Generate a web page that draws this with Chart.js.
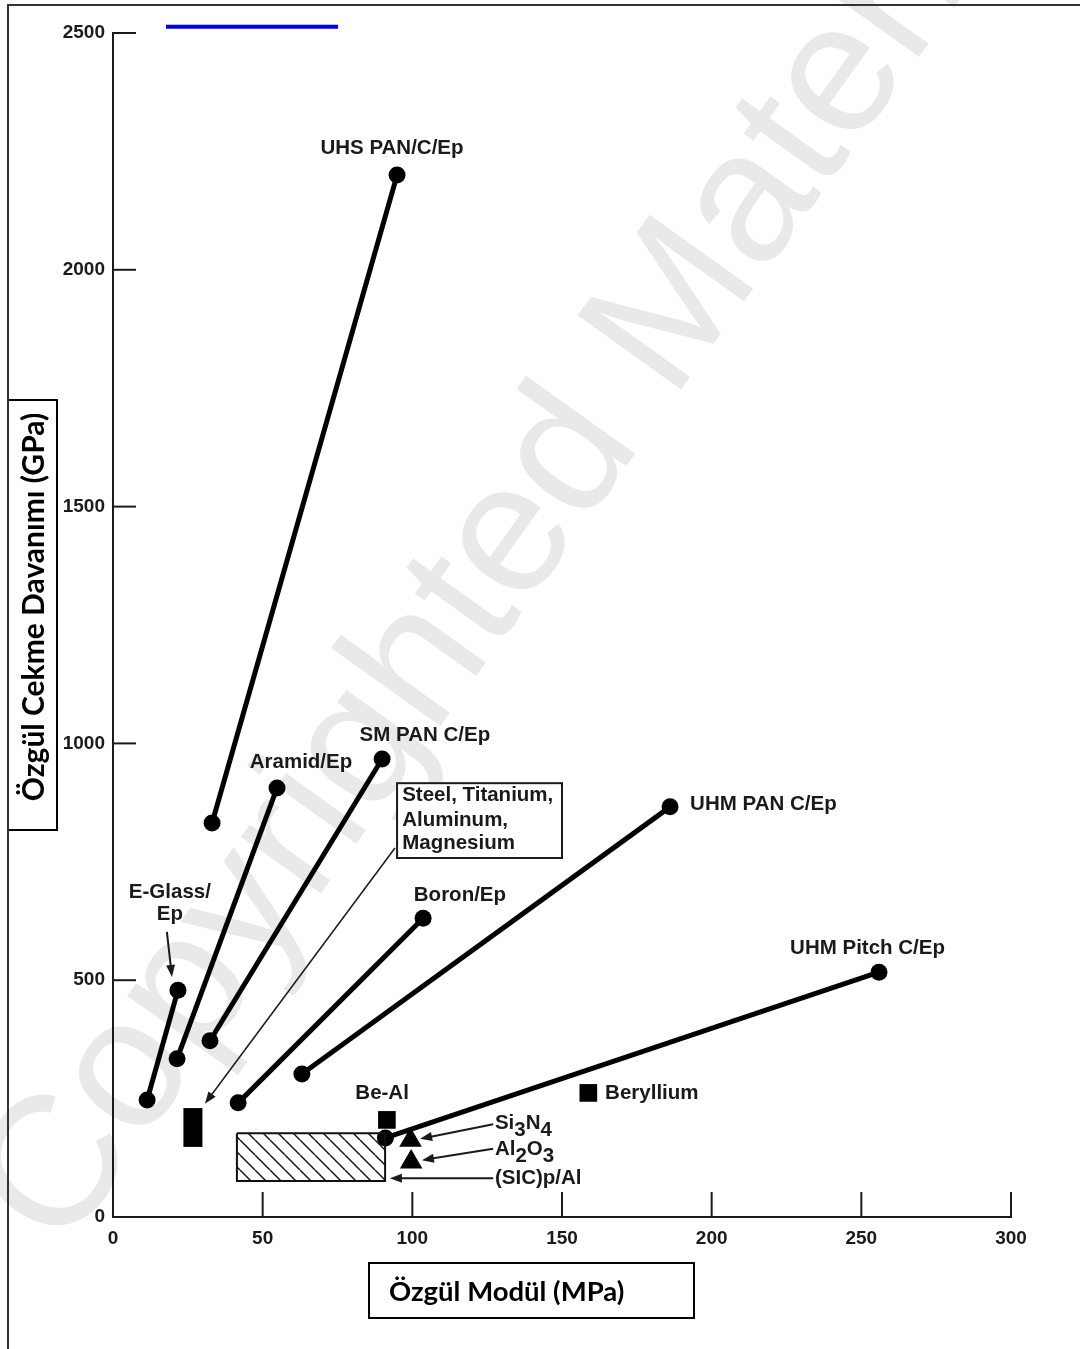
<!DOCTYPE html>
<html>
<head>
<meta charset="utf-8">
<script src="https://cdn.jsdelivr.net/npm/chart.js@4.4.1/dist/chart.umd.min.js"></script>
<style>
  html, body { margin: 0; padding: 0; background: #fff; }
  #wrap { position: relative; width: 1080px; height: 1349px; }
</style>
</head>
<body>
<div id="wrap"><canvas id="chart-canvas"></canvas></div>
<script>
// fibre composites, each drawn as a line from its low end to its high end
const materials   = ['UHS PAN/C/Ep', 'Aramid/Ep', 'SM PAN C/Ep', 'E-Glass/Ep', 'Boron/Ep', 'UHM PAN C/Ep', 'UHM Pitch C/Ep'];
const modulusLow  = [33.1, 21.4, 32.4, 11.4, 41.8, 63.1, 91.0];
const modulusHigh = [94.9, 54.8, 89.9, 21.7, 103.6, 186.1, 255.9];
const strengthLow = [832, 334, 372, 247, 241, 302, 167];
const strengthHigh = [2200, 906, 967, 479, 631, 866, 517];

// metals (Steel, Titanium, Aluminum, Magnesium) band
const metalModulus = 26.7;
const metalStrength = [148, 230];

// single materials
const squareNames = ['Be-Al', 'Beryllium'];
const squareModulus = [91.5, 158.8];
const squareStrength = [205, 262];
const triangleNames = ['Si3N4', 'Al2O3'];
const triangleModulus = [99.4, 99.6];
const triangleStrength = [162, 116];

// (SiC)p/Al range
const sicModulus = [41.4, 90.9];
const sicStrength = [76, 177];

// stray blue stroke at the top of the scan
const blueModulus = [17.7, 75.2];
const blueStrength = 2513;

const xTicks = [0, 50, 100, 150, 200, 250, 300];
const yTicks = [0, 500, 1000, 1500, 2000, 2500];

const LABEL_FONT = 'bold 20.5px "Liberation Sans", Arial, sans-serif';

// text labels, anchored in data units
const labels = [
  {t: 'UHS PAN/C/Ep', x: 93.2, y: 2257, a: 'center'},
  {t: 'Aramid/Ep', x: 62.8, y: 959, a: 'center'},
  {t: 'SM PAN C/Ep', x: 104.2, y: 1016, a: 'center'},
  {t: 'UHM PAN C/Ep', x: 192.8, y: 872, a: 'left'},
  {t: 'Boron/Ep', x: 115.9, y: 680, a: 'center'},
  {t: 'UHM Pitch C/Ep', x: 226.2, y: 568, a: 'left'},
  {t: 'E-Glass/', x: 19.0, y: 686, a: 'center'},
  {t: 'Ep', x: 19.0, y: 638, a: 'center'},
  {t: 'Be-Al', x: 89.9, y: 262, a: 'center'},
  {t: 'Beryllium', x: 164.4, y: 262, a: 'left'},
  {t: '(SIC)p/Al', x: 127.6, y: 82, a: 'left'}
];
const subLabels = [
  {parts: [['Si', 0], ['3', 1], ['N', 0], ['4', 1]], x: 127.6, y: 198},
  {parts: [['Al', 0], ['2', 1], ['O', 0], ['3', 1]], x: 127.6, y: 142}
];
const arrows = [
  {from: [18.0, 602], to: [19.7, 507], w: 2},
  {from: [94.2, 779], to: [30.7, 239], w: 1.5},
  {from: [127.0, 196], to: [102.6, 165], w: 2},
  {from: [127.0, 144], to: [103.2, 120], w: 2},
  {from: [127.0, 82], to: [92.5, 82], w: 2}
];
const metalBox = {x0: 94.9, x1: 150.0, y0: 916, y1: 758,
  lines: ['Steel, Titanium,', 'Aluminum,', 'Magnesium'], tx: 96.6, ty: [891, 838, 790]};

function hatch(){
  const c = document.createElement('canvas');
  c.width = 15; c.height = 15;
  const g = c.getContext('2d');
  g.strokeStyle = '#111';
  g.lineWidth = 1.4;
  for (let k = -1; k <= 1; k++){
    g.beginPath();
    g.moveTo(k * 15, 0);
    g.lineTo(k * 15 + 15, 15);
    g.stroke();
  }
  return g.createPattern(c, 'repeat');
}

function arrow(ctx, x1, y1, x2, y2, lw){
  const head = 12;
  const a = Math.atan2(y2 - y1, x2 - x1);
  ctx.lineWidth = lw;
  ctx.beginPath();
  ctx.moveTo(x1, y1);
  ctx.lineTo(x2 - Math.cos(a) * head * 0.7, y2 - Math.sin(a) * head * 0.7);
  ctx.stroke();
  ctx.beginPath();
  ctx.moveTo(x2, y2);
  ctx.lineTo(x2 - head * Math.cos(a) + 4.5 * Math.sin(a), y2 - head * Math.sin(a) - 4.5 * Math.cos(a));
  ctx.lineTo(x2 - head * Math.cos(a) - 4.5 * Math.sin(a), y2 - head * Math.sin(a) + 4.5 * Math.cos(a));
  ctx.closePath();
  ctx.fill();
}

const decorations = {
  id: 'decorations',
  beforeDraw(chart){
    const ctx = chart.ctx;
    ctx.save();
    // watermark of the scanned page
    ctx.fillStyle = '#e9e9e9';
    ctx.font = '185px "Liberation Sans", Arial, sans-serif';
    ctx.translate(62, 1255);
    ctx.rotate(-0.95);
    ctx.fillText('Copyrighted Material', 0, 0);
    ctx.restore();
  },
  afterDatasetsDraw(chart){
    const ctx = chart.ctx;
    const xs = chart.scales.x, ys = chart.scales.y;
    const X = v => xs.getPixelForValue(v), Y = v => ys.getPixelForValue(v);
    const area = chart.chartArea;
    ctx.save();
    ctx.strokeStyle = '#1a1a1a';
    ctx.fillStyle = '#1a1a1a';
    ctx.lineWidth = 2;
    // inward tick marks
    ys.ticks.forEach(t => {
      if (t.value === 0) return;
      const y = Y(t.value);
      ctx.beginPath(); ctx.moveTo(area.left, y); ctx.lineTo(area.left + 23, y); ctx.stroke();
    });
    xs.ticks.forEach(t => {
      if (t.value === 0) return;
      const x = X(t.value);
      ctx.beginPath(); ctx.moveTo(x, area.bottom); ctx.lineTo(x, area.bottom - 25); ctx.stroke();
    });

    arrows.forEach(a => arrow(ctx, X(a.from[0]), Y(a.from[1]), X(a.to[0]), Y(a.to[1]), a.w));

    ctx.font = LABEL_FONT;
    ctx.textBaseline = 'middle';
    labels.forEach(l => {
      ctx.textAlign = l.a;
      ctx.fillText(l.t, X(l.x), Y(l.y));
    });
    ctx.textAlign = 'left';
    subLabels.forEach(l => {
      let x = X(l.x);
      const y = Y(l.y);
      l.parts.forEach(p => {
        ctx.fillText(p[0], x, y + (p[1] ? 7 : 0));
        x += ctx.measureText(p[0]).width;
      });
    });

    // metals box
    const bx = X(metalBox.x0), by = Y(metalBox.y0);
    const bw = X(metalBox.x1) - bx, bh = Y(metalBox.y1) - by;
    ctx.fillStyle = '#fff';
    ctx.fillRect(bx, by, bw, bh);
    ctx.lineWidth = 2;
    ctx.strokeRect(bx, by, bw, bh);
    ctx.fillStyle = '#1a1a1a';
    metalBox.lines.forEach((s, i) => ctx.fillText(s, X(metalBox.tx), Y(metalBox.ty[i])));

    // axis title boxes
    ctx.strokeStyle = '#000';
    ctx.fillStyle = '#000';
    ctx.lineWidth = 2;
    ctx.strokeRect(369, 1263, 325, 55);
    ctx.font = 'bold 27.5px Lato, "Open Sans", sans-serif';
    ctx.fillText('Özgül Modül (MPa)', 389, 1292);
    ctx.fillStyle = '#fff';
    ctx.fillRect(8, 400, 49, 430);
    ctx.strokeRect(8, 400, 49, 430);
    ctx.fillStyle = '#000';
    ctx.translate(34, 607);
    ctx.rotate(-Math.PI / 2);
    ctx.textAlign = 'center';
    ctx.font = 'bold 30px Lato, "Open Sans", sans-serif';
    ctx.fillText('Özgül Cekme Davanımı (GPa)', 0, 0);
    ctx.restore();

    // page frame
    ctx.save();
    ctx.strokeStyle = '#333';
    ctx.lineWidth = 2;
    ctx.beginPath();
    ctx.moveTo(8, 1349); ctx.lineTo(8, 5); ctx.lineTo(1080, 5);
    ctx.stroke();
    ctx.restore();
  }
};

const datasets = [];
datasets.push({
  label: '(SiC)p/Al',
  data: [
    {x: sicModulus[0], y: sicStrength[1]}, {x: sicModulus[1], y: sicStrength[1]},
    {x: sicModulus[1], y: sicStrength[0]}, {x: sicModulus[0], y: sicStrength[0]},
    {x: sicModulus[0], y: sicStrength[1]}
  ],
  showLine: true, fill: 'shape', backgroundColor: hatch(),
  borderColor: '#111', borderWidth: 2, pointRadius: 0, tension: 0
});
materials.forEach((m, i) => {
  datasets.push({
    label: m,
    data: [{x: modulusLow[i], y: strengthLow[i]}, {x: modulusHigh[i], y: strengthHigh[i]}],
    showLine: true, borderColor: '#000', borderWidth: 5,
    pointRadius: 8.5, pointBackgroundColor: '#000', pointBorderWidth: 0
  });
});
datasets.push({
  label: 'Steel, Titanium, Aluminum, Magnesium',
  data: metalStrength.map(v => ({x: metalModulus, y: v})),
  showLine: true, borderColor: '#000', borderWidth: 19, borderCapStyle: 'butt', pointRadius: 0
});
datasets.push({
  label: 'squares',
  data: squareNames.map((n, i) => ({x: squareModulus[i], y: squareStrength[i]})),
  pointStyle: 'rect', pointRadius: 12.5, backgroundColor: '#000', borderWidth: 0
});
datasets.push({
  label: 'triangles',
  data: triangleNames.map((n, i) => ({x: triangleModulus[i], y: triangleStrength[i]})),
  pointStyle: 'triangle', pointRadius: 13, backgroundColor: '#000', borderWidth: 0
});
datasets.push({
  label: 'blue',
  data: blueModulus.map(v => ({x: v, y: blueStrength})),
  showLine: true, borderColor: '#0000ee', borderWidth: 4, pointRadius: 0, clip: false
});

const tickFont = {family: '"Liberation Sans", Arial, sans-serif', size: 19, weight: 'bold'};

const myChart = new Chart(document.getElementById('chart-canvas'), {
  type: 'scatter',
  data: {datasets: datasets},
  plugins: [decorations],
  options: {
    animation: false,
    responsive: true,
    maintainAspectRatio: false,
    events: [],
    layout: {padding: {left: 0, top: 33, right: 69, bottom: 0}},
    plugins: {legend: false, tooltip: {enabled: false}, title: {display: false}},
    scales: {
      x: {
        type: 'linear', min: 0, max: 300,
        afterBuildTicks: s => { s.ticks = xTicks.map(v => ({value: v})); },
        afterFit: s => { s.height = 132; },
        ticks: {font: tickFont, color: '#1a1a1a', padding: 10, callback: v => String(v)},
        grid: {drawOnChartArea: false, drawTicks: false},
        border: {color: '#1a1a1a', width: 2}
      },
      y: {
        type: 'linear', min: 0, max: 2500,
        afterBuildTicks: s => { s.ticks = yTicks.map(v => ({value: v})); },
        afterFit: s => { s.width = 113; },
        ticks: {font: tickFont, color: '#1a1a1a', padding: 8, callback: v => String(v)},
        grid: {drawOnChartArea: false, drawTicks: false},
        border: {color: '#1a1a1a', width: 2}
      }
    }
  }
});
</script>
</body>
</html>
